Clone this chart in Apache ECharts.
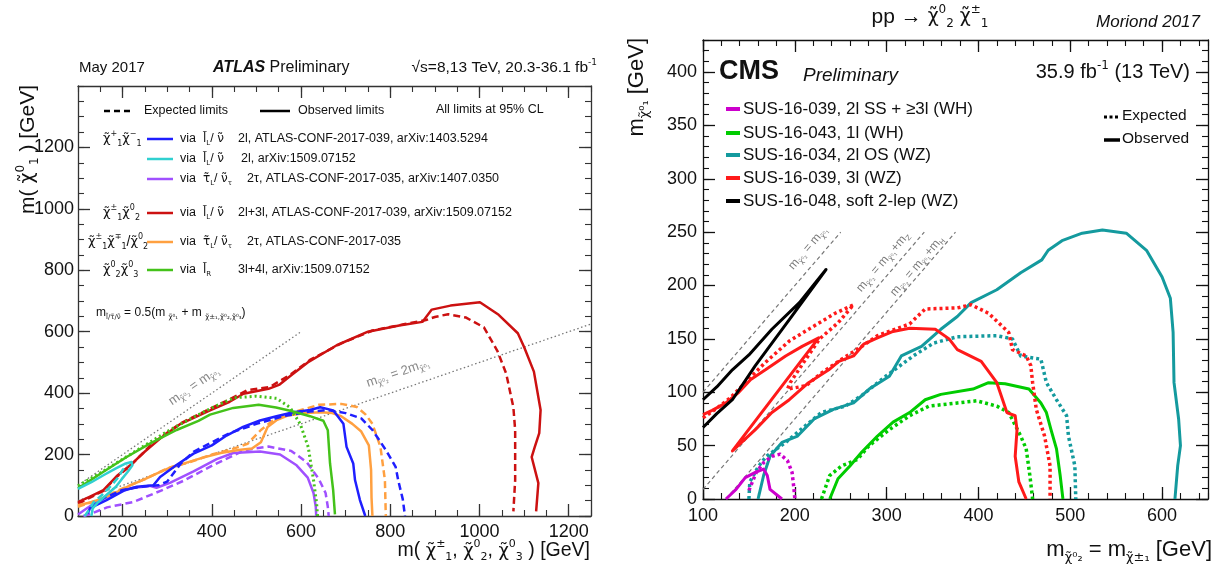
<!DOCTYPE html>
<html>
<head>
<meta charset="utf-8">
<script src="https://cdn.jsdelivr.net/npm/echarts@6/dist/echarts.min.js"></script>
<style>
  html, body { margin: 0; padding: 0; background: #fff; }
  #chart { width: 1222px; height: 579px; }
</style>
</head>
<body>
<div id="chart"></div>
<script>
// ---- ATLAS panel (left), values in GeV ----
const atlasXTicks = [200, 400, 600, 800, 1000, 1200];
const atlasYTicks = [0, 200, 400, 600, 800, 1000, 1200];

const atlasRedObs = [[100,45],[127,63],[157,84],[187,130],[217,165],[250,210],[284,252],[330,300],[396,344],[440,372],[471,398],[527,414],[552,428],[578,458],[615,500],[680,556],[750,600],[820,620],[872,632],[893,672],[935,685],[1001,696],[1043,655],[1086,595],[1100,550],[1122,470],[1137,345],[1134,270],[1124,225],[1117,192],[1132,107],[1127,15]];
const atlasRedExp = [[100,40],[127,60],[157,82],[187,128],[217,163],[268,238],[330,302],[400,352],[440,380],[480,410],[530,420],[578,462],[620,508],[690,562],[760,604],[830,624],[880,638],[900,648],[930,657],[970,646],[1010,614],[1040,538],[1060,463],[1076,354],[1080,279],[1080,117],[1076,15]];
const atlasGreenObs = [[100,90],[157,144],[209,192],[260,235],[321,280],[370,310],[396,330],[448,352],[505,362],[544,353],[578,342],[620,325],[650,310],[660,279],[665,171],[672,84],[676,5]];
const atlasGreenExp = [[100,98],[150,140],[200,185],[250,230],[300,275],[350,315],[400,352],[450,385],[500,390],[545,383],[575,354],[598,300],[616,225],[628,117],[635,40],[637,0]];
const atlasBlueObs = [[122,8],[127,26],[164,52],[205,84],[232,95],[269,100],[284,127],[320,165],[359,203],[400,230],[433,262],[470,290],[508,311],[545,325],[583,338],[620,345],[643,354],[672,344],[695,300],[702,225],[717,171],[721,117],[732,52],[744,0]];
const atlasBlueExp = [[130,30],[160,60],[200,85],[240,95],[280,100],[300,112],[330,170],[360,210],[400,240],[440,270],[500,300],[560,325],[620,340],[660,345],[700,335],[735,318],[760,280],[790,215],[812,160],[818,115],[828,55],[833,0]];
const atlasOrangeObs = [[100,35],[130,45],[160,60],[190,80],[217,100],[250,120],[276,138],[310,160],[340,172],[380,190],[420,205],[460,215],[490,220],[510,240],[525,290],[545,312],[570,327],[610,335],[645,338],[670,335],[690,325],[715,300],[735,275],[752,230],[757,150],[758,60],[760,0]];
const atlasOrangeExp = [[100,30],[150,55],[200,90],[250,120],[300,155],[350,175],[400,200],[440,215],[480,235],[510,280],[545,320],[600,345],[640,362],[690,365],[725,355],[745,330],[760,300],[778,225],[788,117],[790,0]];
const atlasPurpleObs = [[100,5],[120,25],[140,45],[180,72],[217,90],[261,98],[276,92],[306,108],[359,145],[411,185],[448,205],[508,210],[553,200],[590,165],[615,125],[628,75],[633,30],[634,0]];
const atlasPurpleExp = [[112,0],[130,8],[165,28],[225,46],[285,82],[337,115],[406,168],[475,215],[527,226],[578,212],[613,175],[640,120],[655,75],[660,30],[662,0]];
const atlasCyanObs = [[100,88],[130,110],[160,135],[185,155],[205,170],[220,176],[222,165],[212,145],[198,120],[185,95],[165,70],[145,45],[133,25],[130,0]];
const atlasCyanExp = [[115,0],[125,20],[135,45],[155,70],[175,100],[190,125],[200,150],[210,165]];
const atlasDiagEq = [[100,100],[600,600]];
const atlasDiagHalf = [[100,50],[1250,625]];

// ---- CMS panel (right), values in GeV ----
const cmsXTicks = [100, 200, 300, 400, 500, 600];
const cmsYTicks = [0, 50, 100, 150, 200, 250, 300, 350, 400];

const cmsTealObs = [[160,0],[166,22],[173,40],[186,53],[203,59],[221,75],[242,84],[264,90],[281,103],[303,115],[316,134],[338,143],[359,159],[377,171],[392,184],[420,196],[446,212],[469,224],[476,233],[491,242],[513,249],[535,252],[561,249],[583,233],[600,208],[609,188],[612,156],[613,109],[618,75],[620,50],[617,31],[614,0]];
const cmsTealExp = [[150,0],[151,16],[160,30],[169,40],[190,53],[212,69],[229,81],[255,87],[273,97],[299,115],[329,134],[351,146],[377,152],[420,153],[437,150],[446,134],[468,131],[474,109],[485,93],[496,78],[498,59],[505,31],[506,0]];
const cmsRedObs = [[100,79],[110,83],[125,90],[139,100],[152,112],[168,121],[190,134],[208,143],[226,151],[132,45],[157,65],[175,81],[194,93],[215,109],[237,121],[248,129],[264,134],[275,145],[290,151],[307,157],[325,160],[353,159],[368,150],[377,140],[403,129],[420,109],[431,81],[440,78],[442,65],[440,40],[444,16],[452,0]];
const cmsRedExp = [[100,76],[115,85],[130,95],[146,109],[168,128],[194,148],[215,159],[244,174],[264,182],[247,165],[227,150],[212,131],[195,109],[192,103],[212,106],[229,118],[251,131],[273,143],[290,153],[325,164],[342,178],[377,179],[392,182],[411,174],[433,156],[437,140],[452,134],[457,125],[459,109],[463,84],[472,59],[478,31],[478,0]];
const cmsGreenObs = [[238,0],[247,19],[260,31],[273,44],[290,59],[307,72],[325,81],[342,93],[359,98],[394,103],[411,109],[429,108],[455,103],[468,90],[474,81],[479,65],[485,47],[489,22],[492,0]];
const cmsGreenExp = [[229,0],[238,22],[251,31],[268,37],[281,50],[303,65],[325,78],[346,87],[377,90],[398,92],[420,87],[433,81],[446,59],[452,47],[456,22],[459,0]];
const cmsMagentaObs = [[125,0],[136,9],[146,20],[157,25],[166,28],[170,22],[173,9],[186,0]];
const cmsMagentaExp = [[150,8],[158,25],[166,34],[175,40],[184,42],[192,36],[197,25],[199,10],[200,0]];
const cmsBlackObs = [[100,93],[115,105],[132,121],[150,135],[175,159],[205,184],[234,215],[194,168],[157,125],[132,93],[115,80],[100,67]];
const cmsDiagEq = [[100,100],[250,250]];
const cmsDiagZ = [[100,9],[341,250]];
const cmsDiagH = [[125,0],[375,250]];

const F = '"Liberation Sans", Arial, sans-serif';
const FD = '"DejaVu Sans", sans-serif';

function rich(s, c, o) {
  const st = o.style || 'normal', wt = o.weight || 'normal';
  const sm = Math.round(s * 0.58);
  const lh = Math.round(s * 1.25), slh = Math.round(s * 0.62);
  return {
    n: { fontSize: s, lineHeight: lh, verticalAlign: 'middle', fontFamily: F, fill: c, fontStyle: st, fontWeight: wt },
    c: { fontSize: Math.round(s * 0.92), lineHeight: lh, verticalAlign: 'middle', fontFamily: FD, fill: c },
    p: { fontSize: sm, lineHeight: slh, verticalAlign: 'top', fontFamily: FD, fill: c },
    q: { fontSize: sm, lineHeight: slh, verticalAlign: 'bottom', fontFamily: FD, fill: c },
    b: { fontSize: s, lineHeight: lh, verticalAlign: 'middle', fontFamily: F, fill: c, fontStyle: 'italic', fontWeight: 'bold' },
    i: { fontSize: s, lineHeight: lh, verticalAlign: 'middle', fontFamily: F, fill: c, fontStyle: 'italic' }
  };
}

function T(x, y, text, s, o = {}) {
  const c = o.color || '#111';
  return {
    type: 'text', x, y, rotation: o.rot || 0, silent: true, z: 100,
    style: {
      text, fill: c, fontSize: s, fontFamily: F, fontStyle: o.style || 'normal', fontWeight: o.weight || 'normal',
      align: o.align || 'left', verticalAlign: 'middle', rich: rich(s, c, o)
    }
  };
}

function L(x1, y1, x2, y2, color, w, dash) {
  return { type: 'line', silent: true, z: 100, shape: { x1, y1, x2, y2 }, style: { stroke: color, lineWidth: w, lineDash: dash || null } };
}

// major axis with custom ticks + minor axis with regular interval
function axes(gridIndex, position, min, max, majors, minorInt, labels, lc, margin) {
  const base = { type: 'value', gridIndex, position, min, max, splitLine: { show: false }, silent: true };
  const major = Object.assign({}, base, {
    axisLine: { show: true, onZero: false, lineStyle: { color: lc, width: 1.3 } },
    axisTick: { show: true, inside: true, length: 12, customValues: majors, lineStyle: { color: lc, width: 1.3 } },
    axisLabel: labels ? { show: true, customValues: majors, formatter: (v) => String(v), fontSize: 18, fontFamily: F, color: '#111', margin } : { show: false }
  });
  const minor = Object.assign({}, base, {
    interval: minorInt,
    axisLine: { show: false, onZero: false },
    axisTick: { show: true, inside: true, length: 6, lineStyle: { color: lc, width: 1.1 } },
    axisLabel: { show: false }
  });
  return [major, minor];
}

const xAxes = [
  ...axes(0, 'bottom', 100, 1250, atlasXTicks, 50, true, '#333', 7),
  ...axes(0, 'top', 100, 1250, atlasXTicks, 50, false, '#333', 7),
  ...axes(1, 'bottom', 100, 650, cmsXTicks, 20, true, '#111', 8),
  ...axes(1, 'top', 100, 650, cmsXTicks, 20, false, '#111', 8)
];
const yAxes = [
  ...axes(0, 'left', 0, 1400, atlasYTicks, 50, true, '#333', 4),
  ...axes(0, 'right', 0, 1400, atlasYTicks, 50, false, '#333', 4),
  ...axes(1, 'left', 0, 430, cmsYTicks, 10, true, '#111', 6),
  ...axes(1, 'right', 0, 430, cmsYTicks, 10, false, '#111', 6)
];

function S(data, color, g, dash, w) {
  return {
    type: 'line', data, xAxisIndex: g ? 4 : 0, yAxisIndex: g ? 4 : 0,
    showSymbol: false, symbol: 'none', silent: true, clip: true, z: 3,
    lineStyle: { color, width: w, type: dash || 'solid', cap: 'butt', join: 'round' }
  };
}

const dashA = [7, 4], dotA = [2, 3], dotC = [3, 3], greyDot = [1.5, 2.5], greyDash = [4, 3];
const cBlue = '#1f1fff', cCyan = '#30d0d0', cPurple = '#a050ff', cRed = '#cc1111', cOrange = '#ffa040', cGreen = '#44c21a';
const kMag = '#cc00cc', kGreen = '#00cc00', kTeal = '#149a9e', kRed = '#ff1a1a';

const series = [
  S(atlasDiagEq, '#777', 0, greyDot, 1.3),
  S(atlasDiagHalf, '#777', 0, greyDot, 1.3),
  S(atlasRedExp, cRed, 0, dashA, 2.5),
  S(atlasRedObs, cRed, 0, null, 2.5),
  S(atlasPurpleExp, cPurple, 0, dashA, 2.5),
  S(atlasPurpleObs, cPurple, 0, null, 2.5),
  S(atlasOrangeExp, cOrange, 0, dashA, 2.5),
  S(atlasOrangeObs, cOrange, 0, null, 2.5),
  S(atlasBlueExp, cBlue, 0, dashA, 2.5),
  S(atlasBlueObs, cBlue, 0, null, 2.5),
  S(atlasGreenExp, cGreen, 0, dotA, 3),
  S(atlasGreenObs, cGreen, 0, null, 2.5),
  S(atlasCyanExp, cCyan, 0, dashA, 2.5),
  S(atlasCyanObs, cCyan, 0, null, 2.5),

  S(cmsDiagEq, '#777', 1, greyDash, 1.2),
  S(cmsDiagZ, '#777', 1, greyDash, 1.2),
  S(cmsDiagH, '#777', 1, greyDash, 1.2),
  S(cmsTealExp, kTeal, 1, dotC, 3.5),
  S(cmsTealObs, kTeal, 1, null, 3),
  S(cmsGreenExp, kGreen, 1, dotC, 3.5),
  S(cmsGreenObs, kGreen, 1, null, 3),
  S(cmsRedExp, kRed, 1, dotC, 3.5),
  S(cmsRedObs, kRed, 1, null, 3),
  S(cmsMagentaExp, kMag, 1, dotC, 3.5),
  S(cmsMagentaObs, kMag, 1, null, 3),
  S(cmsBlackObs, '#000', 1, null, 3)
];

const chi = 'χ\u0303', sl = 'l\u0303', sn = 'ν\u0303', st = 'τ\u0303';
const aRot = Math.atan((430 / 1400) / (513 / 1150));
const aRot2 = Math.atan(0.5 * (430 / 1400) / (513 / 1150));
const cRot = Math.atan((459 / 430) / (505 / 550));
const C = `{c|${chi}}`;

const graphic = [
  // ATLAS header
  T(79, 68, 'May 2017', 15),
  T(213, 68, '{b|ATLAS}{n| Preliminary}', 16),
  T(597, 68, '{n|√s=8,13 TeV, 20.3-36.1 fb}{p|-1}', 15.5, { align: 'right' }),
  // ATLAS legend header
  L(104, 111, 133, 111, '#000', 2.5, [6, 4]),
  T(144, 111, 'Expected limits', 12.5),
  L(260, 111, 290, 111, '#000', 2.5),
  T(298, 111, 'Observed limits', 12.5),
  T(436, 110, 'All limits at 95% CL', 12.5),
  // groups
  T(103, 139, `${C}{p|+}{q|1}${C}{p|−}{q|1}`, 14),
  T(103, 213, `${C}{p|±}{q|1}${C}{p|0}{q|2}`, 14),
  T(88, 242, `${C}{p|±}{q|1}${C}{p|∓}{q|1}{n|/}${C}{p|0}{q|2}`, 14),
  T(103, 270, `${C}{p|0}{q|2}${C}{p|0}{q|3}`, 14),
  // rows
  L(147, 139, 173, 139, cBlue, 2.5), T(180, 139, 'via', 12.5), T(203, 139, `{c|${sl}}{q|L}{n|/ }{c|${sn}}`, 12.5), T(238, 139, '2l, ATLAS-CONF-2017-039, arXiv:1403.5294', 12.5),
  L(147, 159, 173, 159, cCyan, 2.5), T(180, 159, 'via', 12.5), T(203, 159, `{c|${sl}}{q|L}{n|/ }{c|${sn}}`, 12.5), T(241, 159, '2l, arXiv:1509.07152', 12.5),
  L(147, 179, 173, 179, cPurple, 2.5), T(180, 179, 'via', 12.5), T(203, 179, `{c|${st}}{q|L}{n|/ }{c|${sn}}{q|τ}`, 12.5), T(247, 179, '2τ, ATLAS-CONF-2017-035, arXiv:1407.0350', 12.5),
  L(147, 213, 173, 213, cRed, 2.5), T(180, 213, 'via', 12.5), T(203, 213, `{c|${sl}}{q|L}{n|/ }{c|${sn}}`, 12.5), T(238, 213, '2l+3l, ATLAS-CONF-2017-039, arXiv:1509.07152', 12.5),
  L(147, 242, 173, 242, cOrange, 2.5), T(180, 242, 'via', 12.5), T(203, 242, `{c|${st}}{q|L}{n|/ }{c|${sn}}{q|τ}`, 12.5), T(247, 242, '2τ, ATLAS-CONF-2017-035', 12.5),
  L(147, 270, 173, 270, cGreen, 2.5), T(180, 270, 'via', 12.5), T(203, 270, `{c|${sl}}{q|R}`, 12.5), T(238, 270, '3l+4l, arXiv:1509.07152', 12.5),
  T(96, 313, `{n|m}{q|${sl}/${st}/${sn}}{n| = 0.5(m }{q|${chi}⁰₁}{n| + m }{q|${chi}±₁,${chi}⁰₂,${chi}⁰₃}{n|)}`, 12),
  // ATLAS line labels
  T(194, 386, `{n|m}{q|${chi}⁰₂}{n| = m}{q|${chi}⁰₁}`, 13, { color: '#888', rot: aRot, align: 'center' }),
  T(398, 373, `{n|m}{q|${chi}⁰₂}{n| = 2m}{q|${chi}⁰₁}`, 13, { color: '#888', rot: aRot2, align: 'center' }),
  // ATLAS axis titles
  T(28, 85, `{n|m( }${C}{p|0}{q|1}{n| ) [GeV]}`, 21, { rot: Math.PI / 2, align: 'right' }),
  T(590, 551, `{n|m( }${C}{p|±}{q|1}{n|, }${C}{p|0}{q|2}{n|, }${C}{p|0}{q|3}{n| ) [GeV]}`, 19.5, { align: 'right' }),

  // CMS header
  T(930, 17, `{n|pp → }${C}{p|0}{q|2}{n| }${C}{p|±}{q|1}`, 21, { align: 'center' }),
  T(1200, 22, '{i|Moriond 2017}', 17, { align: 'right' }),
  T(719, 72, 'CMS', 27, { weight: 'bold' }),
  T(803, 76, '{i|Preliminary}', 19),
  T(1190, 72, '{n|35.9 fb}{p|-1}{n| (13 TeV)}', 20, { align: 'right' }),
  // CMS legend
  L(726, 109, 740, 109, kMag, 4), T(743, 109, 'SUS-16-039, 2l SS + ≥3l (WH)', 17),
  L(726, 133, 740, 133, kGreen, 4), T(743, 133, 'SUS-16-043, 1l (WH)', 17),
  L(726, 155, 740, 155, kTeal, 4), T(743, 155, 'SUS-16-034, 2l OS (WZ)', 17),
  L(726, 178, 740, 178, kRed, 4), T(743, 178, 'SUS-16-039, 3l (WZ)', 17),
  L(726, 201, 740, 201, '#000', 4), T(743, 201, 'SUS-16-048, soft 2-lep (WZ)', 17),
  L(1104, 117, 1120, 117, '#000', 3, [3, 2.5]), T(1122, 116, 'Expected', 15.5),
  L(1104, 140, 1120, 140, '#000', 3.5), T(1122, 139, 'Observed', 15.5),
  // CMS line labels
  T(808, 248, `{n|m}{q|${chi}⁰₂}{n| = m}{q|${chi}⁰₁}`, 12, { color: '#777', rot: cRot, align: 'center' }),
  T(883, 262, `{n|m}{q|${chi}⁰₂}{n| = m}{q|${chi}⁰₁}{n|+m}{q|Z}`, 12, { color: '#777', rot: cRot, align: 'center' }),
  T(917, 266, `{n|m}{q|${chi}⁰₂}{n| = m}{q|${chi}⁰₁}{n|+m}{q|H}`, 12, { color: '#777', rot: cRot, align: 'center' }),
  // CMS axis titles
  T(637, 38, `{n|m}{q|${chi}⁰₁}{n| [GeV]}`, 22, { rot: Math.PI / 2, align: 'right' }),
  T(1212, 550, `{n|m}{q|${chi}⁰₂}{n| = m}{q|${chi}±₁}{n| [GeV]}`, 22, { align: 'right' })
];

const chart = echarts.init(document.getElementById('chart'), null, { renderer: 'canvas' });
chart.setOption({
  animation: false,
  backgroundColor: '#fff',
  grid: [
    { left: 78, top: 86, width: 513, height: 430 },
    { left: 703, top: 40, width: 505, height: 459 }
  ],
  xAxis: xAxes,
  yAxis: yAxes,
  series,
  graphic
});
</script>
</body>
</html>
